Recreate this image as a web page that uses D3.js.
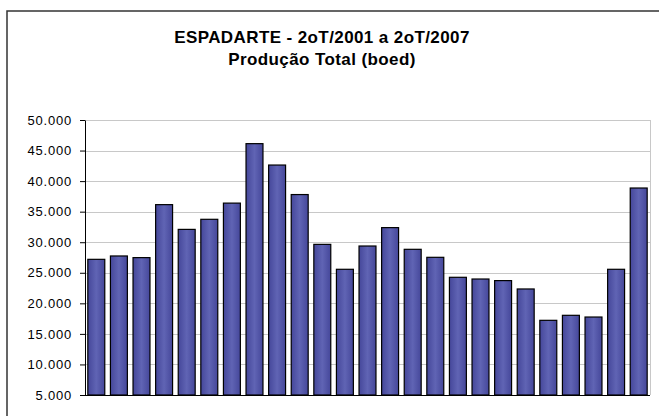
<!DOCTYPE html>
<html>
<head>
<meta charset="utf-8">
<script src="https://cdn.jsdelivr.net/npm/d3@7"></script>
<style>
  body { margin: 0; background: #fff; }
  svg { display: block; font-family: "Liberation Sans", Arial, sans-serif; }
</style>
</head>
<body>
<svg width="659" height="416"></svg>
<script>
// quarters 2T/2001 .. 2T/2007
var quarters = ["2T01","3T01","4T01","1T02","2T02","3T02","4T02","1T03","2T03","3T03","4T03",
                "1T04","2T04","3T04","4T04","1T05","2T05","3T05","4T05","1T06","2T06","3T06","4T06",
                "1T07","2T07"];
var production = [27200, 27750, 27480, 36150, 32100, 33750, 36400, 46130, 42630, 37800, 29650,
                  25570, 29380, 32390, 28840, 27530, 24260, 23980, 23720, 22350, 17220, 18040, 17760,
                  25570, 38870];
var yTicks = [5000, 10000, 15000, 20000, 25000, 30000, 35000, 40000, 45000, 50000];
var titleLines = ["ESPADARTE - 2oT/2001 a 2oT/2007", "Produção Total (boed)"];

var svg = d3.select("svg"),
    margin = {top: 120, right: 9, bottom: 21, left: 85},
    width = +svg.attr("width") - margin.left - margin.right,
    height = +svg.attr("height") - margin.top - margin.bottom;

// outer chart frame (runs off the right and bottom edge)
svg.append("rect")
  .attr("x", 7).attr("y", 11)
  .attr("width", 700).attr("height", 500)
  .attr("fill", "#fff")
  .attr("stroke", "#333").attr("stroke-width", 1.5);

var defs = svg.append("defs");
var grad = defs.append("linearGradient").attr("id", "barGrad")
  .attr("x1", "0%").attr("x2", "100%").attr("y1", "0%").attr("y2", "0%");
grad.append("stop").attr("offset", "0%").attr("stop-color", "#45479a");
grad.append("stop").attr("offset", "50%").attr("stop-color", "#6064b4");
grad.append("stop").attr("offset", "100%").attr("stop-color", "#45479a");

svg.selectAll(".title")
  .data(titleLines)
  .enter().append("text")
  .attr("class", "title")
  .attr("x", 322)
  .attr("y", function(d, i) { return 43 + i * 22; })
  .attr("text-anchor", "middle")
  .attr("font-size", "17px")
  .attr("font-weight", "bold")
  .attr("letter-spacing", "0.4px")
  .attr("fill", "#000")
  .text(function(d) { return d; });

var g = svg.append("g").attr("transform", "translate(" + margin.left + "," + margin.top + ")");

var x = d3.scaleBand()
    .domain(quarters)
    .range([0, width])
    .paddingInner(0.25)
    .paddingOuter(0.125);

var y = d3.scaleLinear()
    .domain([5000, 50000])
    .range([height, 0]);

// gridlines
g.selectAll(".grid")
  .data(yTicks)
  .enter().append("line")
  .attr("class", "grid")
  .attr("x1", 0).attr("x2", width)
  .attr("y1", function(d) { return Math.round(y(d)) + 0.5; })
  .attr("y2", function(d) { return Math.round(y(d)) + 0.5; })
  .attr("stroke", "#c8c8c8");

// right border of plot area
g.append("line")
  .attr("x1", width + 0.5).attr("x2", width + 0.5)
  .attr("y1", 0).attr("y2", height)
  .attr("stroke", "#c8c8c8");

g.selectAll(".bar")
  .data(production)
  .enter().append("rect")
  .attr("class", "bar")
  .attr("x", function(d, i) { return x(quarters[i]); })
  .attr("y", function(d) { return y(d); })
  .attr("width", x.bandwidth())
  .attr("height", function(d) { return height - y(d); })
  .attr("fill", "url(#barGrad)")
  .attr("stroke", "#000")
  .attr("stroke-width", 1.2);

var yAxis = g.append("g")
  .attr("class", "axis axis--y")
  .call(d3.axisLeft(y).tickValues(yTicks).tickSize(5).tickSizeOuter(0).tickPadding(8)
    .tickFormat(function(d) { return d3.format(".3f")(d / 1000); }));
yAxis.select(".domain").attr("stroke", "#000");
yAxis.selectAll(".tick line").attr("stroke", "#000");
yAxis.selectAll("text").attr("font-size", "13px").attr("fill", "#000")
  .attr("letter-spacing", "0.8px")
  .attr("font-family", "Liberation Sans, Arial, sans-serif");

// baseline
g.append("line")
  .attr("x1", 0).attr("x2", width)
  .attr("y1", height + 0.5).attr("y2", height + 0.5)
  .attr("stroke", "#000");
</script>
</body>
</html>
